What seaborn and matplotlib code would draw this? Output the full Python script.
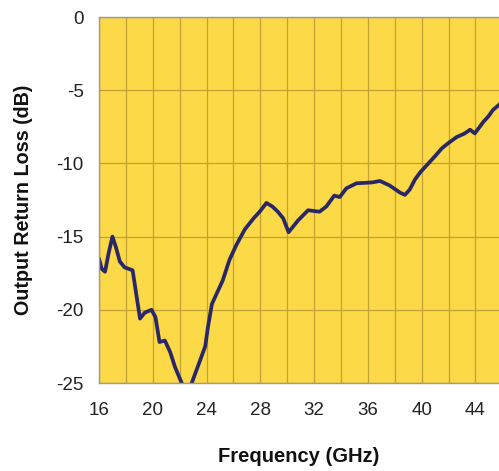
import matplotlib
matplotlib.use("Agg")
import matplotlib.pyplot as plt
import seaborn as sns
import pandas as pd
import numpy as np

freq_ghz = [16.0, 16.2, 16.45, 16.7, 17.0, 17.25, 17.55, 17.9, 18.2, 18.5, 18.8,
            19.05, 19.4, 19.9, 20.2, 20.5, 20.9, 21.3, 21.65, 22.15, 22.5, 22.9,
            23.3, 23.9, 24.1, 24.4, 24.9, 25.2, 25.7, 26.2, 26.85, 27.5, 27.95,
            28.45, 28.9, 29.3, 29.7, 30.1, 30.8, 31.55, 32.4, 32.9, 33.5, 33.9,
            34.4, 35.15, 36.3, 36.9, 37.6, 38.4, 38.75, 39.1, 39.5, 39.9, 40.4,
            41.0, 41.5, 42.0, 42.6, 42.95, 43.2, 43.6, 43.95, 44.6, 44.95, 45.3,
            45.75, 46.0]
return_loss_db = [-16.5, -17.2, -17.4, -16.2, -15.0, -15.7, -16.7, -17.1, -17.2,
                  -17.3, -19.1, -20.6, -20.2, -20.0, -20.5, -22.2, -22.1, -22.9,
                  -23.9, -25.0, -25.9, -25.0, -24.0, -22.5, -21.2, -19.6, -18.6,
                  -18.0, -16.6, -15.6, -14.5, -13.75, -13.3, -12.7, -12.95, -13.3,
                  -13.75, -14.7, -13.9, -13.2, -13.3, -12.95, -12.2, -12.3, -11.7,
                  -11.36, -11.3, -11.2, -11.5, -12.0, -12.15, -11.8, -11.1, -10.6,
                  -10.1, -9.5, -8.97, -8.6, -8.2, -8.06, -7.95, -7.7, -7.95, -7.15,
                  -6.8, -6.35, -6.0, -5.8]
x_ticks = [16, 20, 24, 28, 32, 36, 40, 44]
y_ticks = [0, -5, -10, -15, -20, -25]

df = pd.DataFrame({"Frequency (GHz)": freq_ghz, "Output Return Loss (dB)": return_loss_db})

sns.set_style("white")
plt.rcParams["font.family"] = ["Liberation Sans", "DejaVu Sans"]

fig = plt.figure(figsize=(4.99, 4.71), dpi=100)
ax = fig.add_axes([99 / 499, 1 - 383 / 471, 1 - 99 / 499, (383 - 17) / 471])
ax.set_facecolor("#FCD947")

sns.lineplot(data=df, x="Frequency (GHz)", y="Output Return Loss (dB)", ax=ax,
             color="#2A2766", linewidth=2.7, solid_joinstyle="round",
             solid_capstyle="round", sort=False)

ax.set_xlim(16, 45.75)
ax.set_ylim(-25, 0)
ax.set_xticks(x_ticks)
ax.set_xticks(np.arange(18, 46, 2), minor=True)
ax.set_yticks(y_ticks)
ax.set_xticklabels([str(t) for t in x_ticks])
ax.set_yticklabels([str(t) for t in y_ticks])

ax.grid(True, which="major", color="#C2A233", linewidth=0.9)
ax.grid(True, which="minor", axis="x", color="#C2A233", linewidth=0.9)
ax.set_axisbelow(True)

ax.tick_params(axis="both", which="major", labelsize=13.5, colors="#222222",
               length=5, width=0.9, direction="out", color="#999999", pad=6)
ax.tick_params(axis="x", which="minor", length=0)
ax.tick_params(axis="x", which="major", pad=9)

for side in ["left", "bottom", "top"]:
    ax.spines[side].set_visible(True)
    ax.spines[side].set_color("#9A9A9A")
    ax.spines[side].set_linewidth(1.0)
ax.spines["right"].set_visible(False)

ax.set_xlabel("Frequency (GHz)", fontsize=14.5, fontweight="bold", labelpad=20, color="#111111")
ax.set_ylabel("Output Return Loss (dB)", fontsize=14.2, fontweight="bold", labelpad=17, color="#111111")

fig.savefig("out.png", dpi=100)
